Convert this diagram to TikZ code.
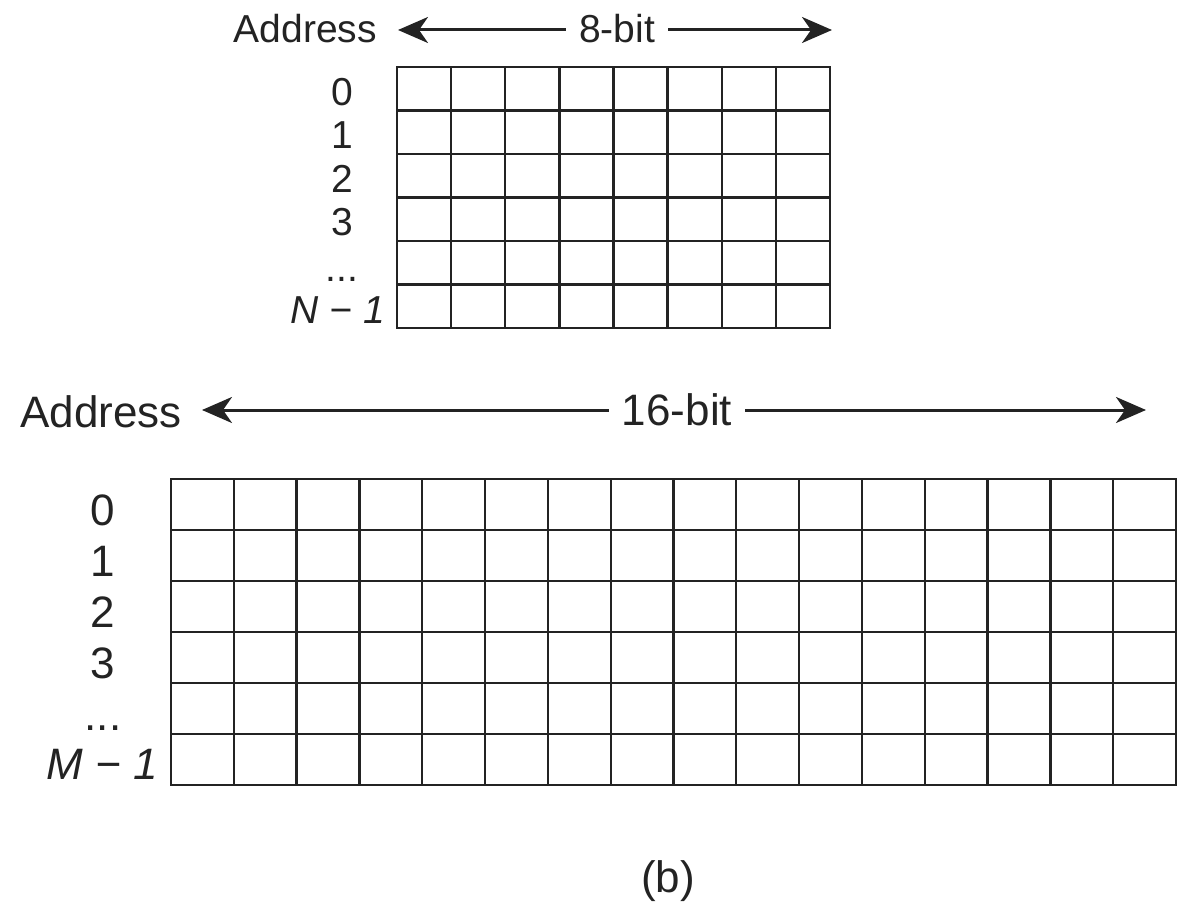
\documentclass[tikz,border=0pt]{standalone}
\usepackage{fontspec}
\setmainfont{Liberation Sans}
\usetikzlibrary{arrows.meta}
\definecolor{ink}{HTML}{232323}
\begin{document}
\begin{tikzpicture}[x=1pt, y=-1pt,
  gridline/.style={draw=ink, line width=2.3pt, line cap=rect},
  dimarrow/.style={draw=ink, line width=3pt, -{Stealth[length=30pt, width=26pt, inset=9pt]}},
  smalltext/.style={font=\fontsize{39}{39}\selectfont, text=ink, inner sep=0pt},
  bigtext/.style={font=\fontsize{44}{44}\selectfont, text=ink, inner sep=0pt},
  widthlabel/.style={inner xsep=13pt, inner ysep=0pt}]
\useasboundingbox (0,0) rectangle (1178,904);

% ---- 8-bit memory: 8 columns x 6 rows ----
\foreach \i in {0,...,8}
  \draw[gridline] ({397+\i*54.125},67) -- ({397+\i*54.125},328);
\foreach \j in {0,...,6}
  \draw[gridline] (397,{67+\j*43.5}) -- (830,{67+\j*43.5});

\node[smalltext, anchor=base] (a0) at (342,105.5) {0};
\node[smalltext, anchor=base] (a1) at (342,149) {1};
\node[smalltext, anchor=base] (a2) at (342,192.5) {2};
\node[smalltext, anchor=base] (a3) at (342,236) {3};
\node[smalltext, anchor=base] (adots) at (342,281) {...};
\node[smalltext, anchor=base east, font=\fontsize{39}{39}\selectfont\itshape] (alast) at (385,323) {N − 1};

\node[smalltext, anchor=base east] (addrA) at (377,43) {Address};
\node[smalltext, widthlabel, anchor=base] (bit8) at (617,43) {8-bit};
\coordinate (tipAL) at (398,30);
\coordinate (tipAR) at (832,30);
\draw[dimarrow] (bit8.west |- tipAL) -- (tipAL);
\draw[dimarrow] (bit8.east |- tipAR) -- (tipAR);

% ---- 16-bit memory: 16 columns x 6 rows ----
\foreach \i in {0,...,16}
  \draw[gridline] ({171+\i*62.8125},479) -- ({171+\i*62.8125},785);
\foreach \j in {0,...,6}
  \draw[gridline] (171,{479+\j*51}) -- (1176,{479+\j*51});

\node[bigtext, anchor=base] (b0) at (103,525) {0};
\node[bigtext, anchor=base] (b1) at (103,576) {1};
\node[bigtext, anchor=base] (b2) at (103,627) {2};
\node[bigtext, anchor=base] (b3) at (103,678) {3};
\node[bigtext, anchor=base] (bdots) at (103,730) {...};
\node[bigtext, anchor=base east, font=\fontsize{44}{44}\selectfont\itshape] (blast) at (158,779) {M − 1};

\node[bigtext, anchor=base east] (addrB) at (182,427) {Address};
\node[bigtext, widthlabel, anchor=base] (bit16) at (677,425) {16-bit};
\coordinate (tipBL) at (202,410);
\coordinate (tipBR) at (1146,410);
\draw[dimarrow] (bit16.west |- tipBL) -- (tipBL);
\draw[dimarrow] (bit16.east |- tipBR) -- (tipBR);

\node[bigtext, anchor=base] (caption) at (668,892) {(b)};
\end{tikzpicture}
\end{document}
